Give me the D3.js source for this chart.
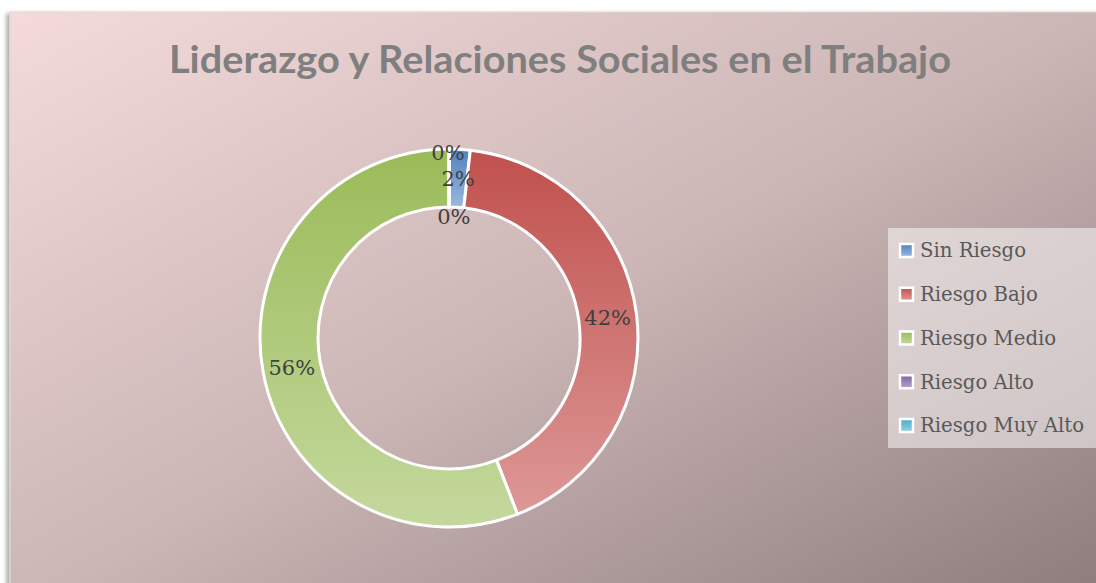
<!DOCTYPE html>
<html><head><meta charset="utf-8">
<script src="https://cdn.jsdelivr.net/npm/d3@7"></script>
<style>html,body{margin:0;padding:0;background:#fff;overflow:hidden}</style>
</head><body>
<svg id="c" width="1096" height="583"></svg>
<script>
const title = "Liderazgo y Relaciones Sociales en el Trabajo";
const categories = ["Sin Riesgo","Riesgo Bajo","Riesgo Medio","Riesgo Alto","Riesgo Muy Alto"];
const values = [1.8, 42.3, 55.9, 0, 0];
const topColors = ["#4f81bd","#c0504d","#9bbb59","#8064a2","#4bacc6"];
const bottomColors = ["#9cb9df","#dd9896","#c4d89d","#b5a3cf","#93d2e3"];

const svg = d3.select("#c");
const defs = svg.append("defs");

// background gradient
const bg = defs.append("linearGradient").attr("id","bg")
  .attr("x1",0).attr("y1",0).attr("x2",1).attr("y2",1);
bg.append("stop").attr("offset","0%").attr("stop-color","#f4dadb");
bg.append("stop").attr("offset","50%").attr("stop-color","#cbb5b5");
bg.append("stop").attr("offset","100%").attr("stop-color","#8b7a7b");

const sh = defs.append("filter").attr("id","sh").attr("x","-5%").attr("y","-5%").attr("width","110%").attr("height","110%");
sh.append("feDropShadow").attr("dx",-3).attr("dy",2).attr("stdDeviation",2.2)
  .attr("flood-color","#000").attr("flood-opacity",0.35);

categories.forEach((c,i)=>{
  const g = defs.append("linearGradient").attr("id","g"+i)
    .attr("x1",0).attr("y1",0).attr("x2",0).attr("y2",1);
  g.append("stop").attr("offset","0%").attr("stop-color",topColors[i]);
  g.append("stop").attr("offset","100%").attr("stop-color",bottomColors[i]);
});

svg.append("rect").attr("x",10).attr("y",12).attr("width",1100).attr("height",600)
  .attr("fill","url(#bg)").attr("stroke","#d9d9d9").attr("stroke-width",1)
  .attr("filter","url(#sh)");

// title
const t = svg.append("text").attr("x",560).attr("y",73)
  .attr("text-anchor","middle")
  .style("font-family","Lato, 'Open Sans', sans-serif").style("font-weight","bold")
  .style("font-size","38px").attr("fill","#7f7f7f").text(title);
t.attr("textLength",782).attr("lengthAdjust","spacingAndGlyphs");

// donut
const cx = 449, cy = 338, rOut = 189, rIn = 131;
const pie = d3.pie().sort(null).value(d=>d)(values);
const arc = d3.arc().innerRadius(rIn).outerRadius(rOut);
const gd = svg.append("g").attr("transform",`translate(${cx},${cy})`);
gd.selectAll("path").data(pie).enter().append("path")
  .attr("d",arc)
  .attr("fill",(d,i)=>`url(#g${i})`)
  .attr("stroke","#fff").attr("stroke-width",3).attr("stroke-linejoin","round");

const total = d3.sum(values);
const rMid = (rIn+rOut)/2;
let zeroCount = 0;
pie.forEach((d,i)=>{
  let a = (d.startAngle+d.endAngle)/2, r = rMid, dx = 0;
  if (d.value === 0) {
    // zero slices collapse at the same angle; spread their labels
    if (zeroCount === 0) { r = rMid + 26; dx = -1; }
    else { r = rMid - 38; a = (pie[0].startAngle+pie[0].endAngle)/2; dx = -2; }
    zeroCount++;
  }
  const x = r*Math.sin(a)+dx, y = -r*Math.cos(a);
  gd.append("text").attr("x",x).attr("y",y).attr("dy","0.36em")
    .attr("text-anchor","middle")
    .style("font-family","'DejaVu Serif', serif").style("font-size","21px")
    .attr("fill","#404040")
    .text(Math.round(d.value/total*100)+"%");
});

// legend
const lg = svg.append("g");
lg.append("rect").attr("x",888).attr("y",228).attr("width",220).attr("height",220)
  .attr("fill","#fff").attr("fill-opacity",0.5);
const ly = d3.scalePoint().domain(categories).range([250.5,425.5]);
categories.forEach((c,i)=>{
  const y = ly(c);
  lg.append("rect").attr("x",900).attr("y",y-6.5).attr("width",13).attr("height",13)
    .attr("fill",`url(#g${i})`).attr("stroke","#fff").attr("stroke-width",2.5);
  lg.append("text").attr("x",920).attr("y",y).attr("dy","0.35em")
    .style("font-family","'DejaVu Serif', serif").style("font-size","19.7px")
    .attr("fill","#595959").text(c);
});
</script>
</body></html>
